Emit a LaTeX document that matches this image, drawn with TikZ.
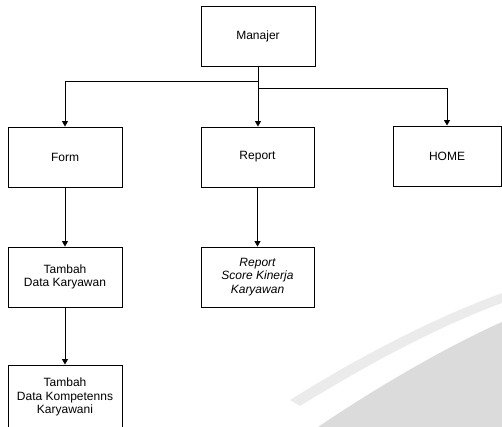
\documentclass[tikz,border=0pt]{standalone}
\usepackage{fontspec}
\setmainfont{Liberation Sans}
\usetikzlibrary{arrows.meta}
\begin{document}
\begin{tikzpicture}[x=1pt,y=-1pt,
  txt/.style={font=\fontsize{12}{13.5}\selectfont},
  box/.style={draw=black,line width=0.9pt,fill=white,minimum width=114pt,minimum height=60pt,inner sep=0pt,align=center,txt},
  conn/.style={draw=black,line width=0.9pt},
  arr/.style={conn,-{Triangle[width=6pt,length=5.5pt]}}]
\useasboundingbox (0,0) rectangle (502,427);
\clip (0,0) rectangle (502,427);
% background swoosh
\fill[gray!16] (290,400) .. controls (370,350) and (440,316) .. (502,293) -- (502,303) .. controls (440,326) and (375,360) .. (300,406) -- cycle;
\fill[gray!28] (318,427) .. controls (380,385) and (450,345) .. (502,322) -- (502,427) -- cycle;
% nodes
\node[box] (man) at (258,36) {Manajer};
\node[box] (form) at (65,157) {Form};
\node[box,minimum width=113pt] (rep) at (257.5,157) {Report};
\node[box,minimum width=108pt] (home) at (447,156) {HOME};
\node[box] (tdk) at (65,277) {Tambah\\Data Karyawan};
\node[box,minimum width=113pt,font=\fontsize{12}{13.5}\selectfont\itshape] (rsk) at (257.5,277) {Report\\Score Kinerja\\Karyawan};
\node[box,minimum height=64pt] (tdkk) at (65,397) {Tambah\\Data Kompetenns\\Karyawani};
% connectors
\coordinate (j1) at (258,81);
\coordinate (j2) at (258,88);
\draw[arr] (man.south) -- (man.south |- rep.north);
\draw[arr] (man.south |- j1) -| (form.north);
\draw[arr] (man.south |- j2) -| (home.north);
\draw[arr] (form.south) -- (tdk.north);
\draw[arr] (rep.south) -- (rsk.north);
\draw[arr] (tdk.south) -- (tdkk.north);
\end{tikzpicture}
\end{document}
